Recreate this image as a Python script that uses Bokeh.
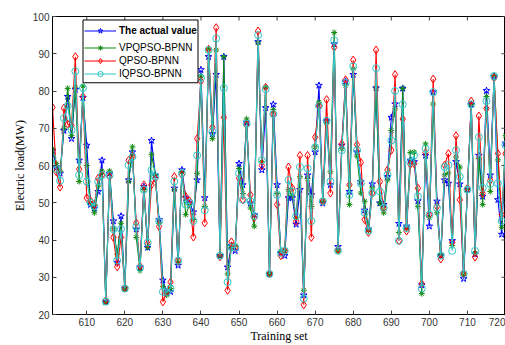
import math
from bokeh.plotting import figure
from bokeh.models import Range1d, FixedTicker, Legend, LegendItem, BoxAnnotation
from bokeh.embed import file_html
from bokeh.resources import INLINE

training_index = list(range(601, 721))

actual_value = [
    64.0, 59.6, 57.9, 69.4, 78.5, 67.2, 80.4, 61.4, 78.2, 65.4,
    49.5, 48.5, 53.0, 61.4, 23.4, 57.9, 45.1, 34.0, 46.4, 27.0,
    56.1, 63.6, 42.9, 32.7, 54.3, 38.0, 66.7, 57.4, 45.5, 29.2,
    25.7, 26.1, 53.9, 33.2, 58.8, 51.3, 49.9, 47.5, 56.1, 85.7,
    51.3, 89.2, 68.5, 84.4, 35.8, 89.2, 32.7, 38.5, 37.1, 60.5,
    54.8, 71.6, 49.9, 46.8, 93.2, 58.8, 75.5, 30.9, 76.4, 54.8,
    36.5, 35.8, 51.3, 51.3, 44.2, 53.5, 25.2, 57.4, 52.1, 63.6,
    81.5, 49.9, 72.0, 54.8, 92.6, 38.2, 65.4, 82.6, 53.0, 84.4,
    63.6, 55.7, 48.0, 42.9, 55.0, 80.8, 49.9, 49.5, 57.0, 72.9,
    76.5, 44.4, 80.7, 43.7, 61.4, 61.0, 50.5, 27.9, 62.7, 43.7,
    79.7, 50.4, 35.8, 56.1, 55.2, 39.8, 61.0, 55.0, 29.6, 53.5,
    76.4, 36.2, 62.7, 51.7, 80.1, 57.4, 83.9, 50.8, 41.5, 66.0,
]

vpqpso_bpnn = [
    64.5, 60.5, 58.5, 70.0, 80.7, 68.0, 81.0, 55.7, 81.3, 60.0,
    50.0, 47.3, 54.5, 58.5, 23.2, 58.5, 43.0, 36.2, 44.5, 26.8,
    55.7, 65.0, 40.7, 31.8, 53.5, 38.0, 63.0, 57.4, 44.5, 27.5,
    25.2, 27.0, 53.5, 34.0, 58.3, 46.8, 49.5, 45.5, 57.9, 84.0,
    49.0, 91.2, 67.2, 91.0, 35.8, 89.2, 30.9, 38.0, 38.5, 59.2,
    52.5, 72.5, 48.6, 43.7, 92.9, 61.0, 81.0, 30.9, 75.0, 52.5,
    37.0, 37.1, 53.5, 52.0, 45.9, 57.0, 26.5, 56.5, 49.0, 65.0,
    77.0, 50.5, 71.5, 58.3, 95.7, 37.0, 64.5, 81.5, 49.5, 86.0,
    62.5, 52.6, 50.4, 42.5, 54.0, 80.8, 49.9, 47.3, 56.1, 69.4,
    75.2, 42.0, 80.7, 43.0, 63.5, 63.6, 49.0, 25.6, 65.8, 46.0,
    76.5, 47.3, 36.0, 57.5, 58.0, 38.5, 62.3, 59.6, 30.9, 53.5,
    76.4, 36.5, 61.8, 49.5, 78.5, 53.0, 84.2, 61.5, 43.4, 68.0,
]

qpso_bpnn = [
    75.6, 58.3, 54.2, 75.4, 71.1, 70.7, 89.2, 59.0, 78.5, 51.3,
    50.5, 49.5, 56.6, 57.4, 23.8, 57.0, 40.7, 32.8, 40.7, 27.2,
    61.4, 62.5, 44.6, 33.0, 54.8, 39.0, 54.8, 56.5, 43.6, 23.4,
    26.0, 28.7, 57.0, 34.5, 57.5, 51.7, 50.5, 40.8, 67.2, 82.6,
    44.6, 91.2, 70.2, 97.0, 35.5, 72.9, 26.5, 39.5, 38.0, 56.6,
    50.8, 71.0, 52.1, 46.0, 96.1, 60.0, 81.0, 31.0, 73.8, 49.5,
    35.8, 37.1, 59.6, 53.9, 45.0, 62.7, 22.6, 62.7, 40.7, 67.6,
    76.0, 50.4, 77.7, 52.6, 91.7, 37.5, 65.8, 83.0, 54.8, 88.3,
    65.6, 60.8, 45.5, 42.0, 52.6, 91.0, 55.7, 48.5, 58.8, 64.1,
    84.4, 39.8, 72.5, 42.4, 60.3, 60.5, 53.9, 28.3, 63.5, 46.8,
    83.2, 49.0, 34.9, 60.1, 63.2, 39.4, 68.0, 50.8, 30.9, 53.9,
    77.3, 35.4, 73.3, 52.5, 75.3, 56.0, 83.5, 63.2, 46.8, 63.2,
]

iqpso_bpnn = [
    62.0, 59.0, 55.9, 72.7, 76.0, 69.5, 85.3, 57.4, 80.8, 55.7,
    50.0, 49.0, 55.7, 57.4, 23.5, 57.4, 42.9, 34.5, 42.9, 27.0,
    60.1, 62.3, 43.5, 32.5, 53.5, 39.3, 58.8, 57.0, 45.0, 26.1,
    26.0, 27.0, 55.7, 34.5, 57.9, 49.5, 50.0, 45.1, 62.7, 83.5,
    48.0, 91.0, 69.0, 94.1, 35.8, 80.8, 28.7, 38.0, 38.0, 57.9,
    50.8, 71.2, 50.4, 46.4, 95.0, 61.4, 80.5, 30.9, 73.8, 52.1,
    36.5, 37.1, 56.1, 53.0, 46.4, 59.6, 24.3, 59.2, 45.1, 64.9,
    76.0, 50.4, 72.0, 55.7, 93.6, 37.1, 64.1, 82.2, 52.1, 86.6,
    64.1, 55.2, 47.3, 42.5, 52.6, 86.1, 53.0, 48.6, 57.5, 66.7,
    80.0, 39.8, 76.4, 43.2, 60.9, 62.7, 51.7, 27.0, 64.5, 46.8,
    79.7, 48.6, 35.8, 59.6, 60.1, 37.1, 64.1, 57.0, 30.9, 53.5,
    76.4, 37.1, 67.6, 54.0, 77.3, 55.0, 84.0, 55.2, 45.1, 65.5,
]

x_ticks = [610, 620, 630, 640, 650, 660, 670, 680, 690, 700, 710, 720]
y_ticks = [20, 30, 40, 50, 60, 70, 80, 90, 100]
x_lim = (601, 720)
y_lim = (20, 100)

series = [
    ("The actual value", actual_value, "#0000ff", "star", 7),
    ("VPQPSO-BPNN", vpqpso_bpnn, "#108a10", "asterisk", 6),
    ("QPSO-BPNN", qpso_bpnn, "#ff0000", "diamond", 8),
    ("IQPSO-BPNN", iqpso_bpnn, "#2fc6c6", "circle", 7),
]

p = figure(width=505, height=345, output_backend="svg", toolbar_location=None,
           x_range=Range1d(*x_lim), y_range=Range1d(*y_lim),
           min_border_left=52, min_border_right=0, min_border_top=16,
           min_border_bottom=0)
p.xgrid.visible = False
p.ygrid.visible = False
p.outline_line_color = "black"
p.background_fill_color = "white"

for ax, ticks in ((p.xaxis[0], x_ticks), (p.yaxis[0], y_ticks)):
    ax.ticker = FixedTicker(ticks=ticks)
    ax.major_tick_in = 4
    ax.major_tick_out = 0
    ax.minor_tick_line_color = None
    ax.axis_line_color = "black"
    ax.major_tick_line_color = "#444444"
    ax.major_label_text_font = "Liberation Sans"
    ax.major_label_text_font_size = "10px"
    ax.major_label_text_color = "#333333"
    ax.axis_label_text_font = "Liberation Serif"
    ax.axis_label_text_font_size = "12px"
    ax.axis_label_text_font_style = "normal"
    ax.axis_label_text_color = "black"

p.xaxis[0].axis_label = "Training set"
p.xaxis[0].major_label_standoff = 3
p.xaxis[0].axis_label_standoff = 0
p.yaxis[0].axis_label = "Electric load(MW)"
p.yaxis[0].major_label_standoff = 3
p.yaxis[0].axis_label_standoff = 3

# inward tick marks on the top and right edges of the box
p.ray(x=x_ticks, y=[y_lim[1]] * len(x_ticks), length=4, length_units="screen",
      angle=-math.pi / 2, line_color="#444444", line_width=1)
p.ray(x=[x_lim[1]] * len(y_ticks), y=y_ticks, length=4, length_units="screen",
      angle=math.pi, line_color="#444444", line_width=1)

items = []
for label, vals, color, marker, size in series:
    ln = p.line(training_index, vals, line_color=color, line_width=1.1)
    sc = p.scatter(training_index, vals, marker=marker, size=size,
                   line_color=color, fill_color=None, line_width=1)
    items.append(LegendItem(label=label, renderers=[ln, sc]))

# legend: bold first entry + normal entries, one shared box
leg_x, leg_y = 32, 234
pad, glyph_w, standoff, row_h, lab_w = 2, 32, 3, 13, 73
common = dict(label_text_font="Liberation Sans", label_text_font_size="10px",
              label_text_color="black", label_width=lab_w,
              glyph_width=glyph_w, glyph_height=row_h, label_height=row_h, spacing=0,
              padding=pad, margin=0, label_standoff=standoff,
              border_line_color=None,
              background_fill_color="white", background_fill_alpha=1)
rest_h = 2 * pad + 3 * row_h
legend_rest = Legend(items=items[1:], location=(leg_x, leg_y), **common)
legend_first = Legend(items=items[:1], location=(leg_x, leg_y + rest_h),
                      label_text_font_style="bold", **common)
p.add_layout(legend_rest)
p.add_layout(legend_first)

# outline of the legend box, drawn just outside the two legend panels
frame_w, frame_h = 453.0, 299.0
box_w = 2 * pad + glyph_w + standoff + lab_w
box_h = 4 * pad + 4 * row_h
gap = 1.5
sx = (x_lim[1] - x_lim[0]) / frame_w
sy = (y_lim[1] - y_lim[0]) / frame_h
legend_box = BoxAnnotation(left=x_lim[0] + (leg_x - gap) * sx,
                           right=x_lim[0] + (leg_x + box_w + gap) * sx,
                           bottom=y_lim[0] + (leg_y - gap) * sy,
                           top=y_lim[0] + (leg_y + box_h + gap) * sy,
                           fill_color="white", fill_alpha=1,
                           line_color="black", line_width=1, line_alpha=1,
                           level="overlay")
p.add_layout(legend_box)

open("out.html", "w").write(file_html(p, INLINE))
